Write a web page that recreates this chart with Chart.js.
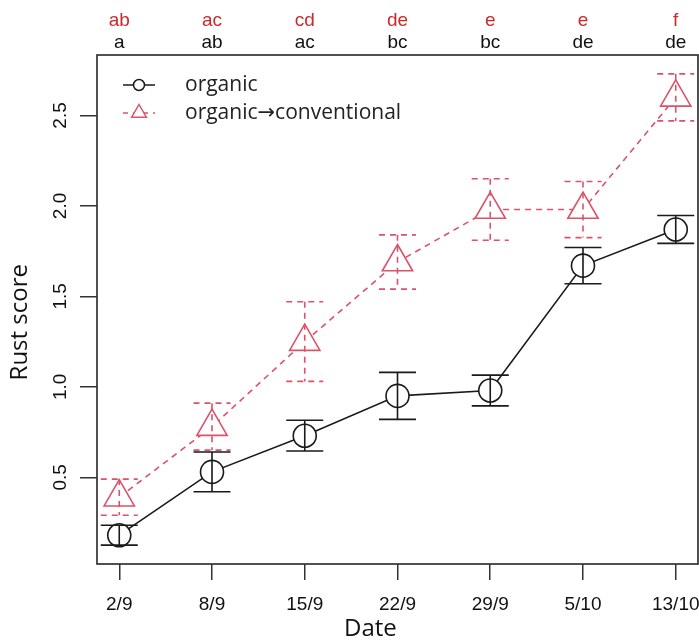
<!DOCTYPE html>
<html>
<head>
<meta charset="utf-8">
<script src="https://cdn.jsdelivr.net/npm/chart.js@4.4.1/dist/chart.umd.min.js"></script>
<style>
  html, body { margin: 0; padding: 0; background: #fff; }
  #wrap { width: 699px; height: 641px; }
</style>
</head>
<body>
<div id="wrap"><canvas id="c" width="699" height="641"></canvas></div>
<script>
// Sampling dates (equally spaced categories)
const dates = ['2/9', '8/9', '15/9', '22/9', '29/9', '5/10', '13/10'];

// Mean rust score and standard error per date
const organicMean = [0.18, 0.53, 0.73, 0.95, 0.98, 1.67, 1.87];
const organicErr  = [0.055, 0.11, 0.085, 0.13, 0.085, 0.10, 0.077];
const convMean    = [0.39, 0.78, 1.25, 1.69, 1.98, 1.98, 2.60];
const convErr     = [0.10, 0.13, 0.22, 0.15, 0.17, 0.155, 0.13];

// Significance letters shown above each date
const convLetters    = ['ab', 'ac', 'cd', 'de', 'e', 'e', 'f'];
const organicLetters = ['a', 'ab', 'ac', 'bc', 'bc', 'de', 'de'];

const yTicks = [0.5, 1.0, 1.5, 2.0, 2.5];

const seriesNames = ['organic', 'organic\u2192conventional'];
const xTitle = 'Date';
const yTitle = 'Rust score';

const BLACK = '#1a1a1a';
const RED = '#d9536b';
const RED_TEXT = '#c92a2a';
const TICK_FONT = { family: '"Liberation Sans", Arial, sans-serif', size: 19 };
const LABEL_FAMILY = '"Open Sans", "DejaVu Sans", sans-serif';

// Axis limits padded by 4% of the data extent on each side
const lows = organicMean.map((m, i) => m - organicErr[i]).concat(convMean.map((m, i) => m - convErr[i]));
const highs = organicMean.map((m, i) => m + organicErr[i]).concat(convMean.map((m, i) => m + convErr[i]));
const yLo = Math.min(...lows), yHi = Math.max(...highs);
const yPad = (yHi - yLo) * 0.04;
const xPad = (dates.length - 1) * 0.04;

const toPoints = arr => arr.map((v, i) => ({ x: i + 1, y: v }));

// Error bars with caps, drawn over the markers
const errorBars = {
  id: 'errorBars',
  afterDatasetsDraw(chart) {
    const { ctx, scales: { x, y } } = chart;
    const sets = [
      { mean: organicMean, err: organicErr, color: BLACK, dash: [] },
      { mean: convMean, err: convErr, color: RED, dash: [6, 5] }
    ];
    const half = 18.5;
    ctx.save();
    ctx.lineWidth = 1.6;
    sets.forEach(s => {
      ctx.strokeStyle = s.color;
      ctx.setLineDash(s.dash);
      s.mean.forEach((m, i) => {
        const px = x.getPixelForValue(i + 1);
        const top = y.getPixelForValue(m + s.err[i]);
        const bot = y.getPixelForValue(m - s.err[i]);
        ctx.beginPath();
        ctx.moveTo(px, top); ctx.lineTo(px, bot);
        ctx.moveTo(px - half, top); ctx.lineTo(px + half, top);
        ctx.moveTo(px - half, bot); ctx.lineTo(px + half, bot);
        ctx.stroke();
      });
    });
    ctx.restore();
  }
};

// Frame, axis titles, legend and letter rows
const decorations = {
  id: 'decorations',
  afterDraw(chart) {
    const { ctx, chartArea: a, scales: { x } } = chart;
    ctx.save();
    ctx.strokeStyle = '#333';
    ctx.lineWidth = 1.7;
    ctx.setLineDash([]);
    ctx.strokeRect(a.left, a.top, a.right - a.left, a.bottom - a.top);

    // axis titles
    ctx.fillStyle = '#111';
    ctx.font = `24px ${LABEL_FAMILY}`;
    ctx.textAlign = 'center';
    ctx.textBaseline = 'middle';
    ctx.fillText(xTitle, a.left + (a.right - a.left) * 0.455, 629);
    ctx.save();
    ctx.translate(20, a.top + (a.bottom - a.top) * 0.525);
    ctx.rotate(-Math.PI / 2);
    ctx.fillText(yTitle, 0, 0);
    ctx.restore();

    // letters above the plot
    ctx.font = `${TICK_FONT.size}px ${TICK_FONT.family}`;
    dates.forEach((d, i) => {
      const px = x.getPixelForValue(i + 1);
      ctx.fillStyle = RED_TEXT;
      ctx.fillText(convLetters[i], px, 21);
      ctx.fillStyle = '#111';
      ctx.fillText(organicLetters[i], px, 43);
    });

    // legend
    const lx0 = a.left + 26, lx1 = a.left + 58, lmid = (lx0 + lx1) / 2;
    const rows = [a.top + 30, a.top + 58];
    ctx.lineWidth = 1.5;
    ctx.strokeStyle = BLACK;
    ctx.beginPath(); ctx.moveTo(lx0, rows[0]); ctx.lineTo(lx1, rows[0]); ctx.stroke();
    ctx.fillStyle = '#fff';
    ctx.beginPath(); ctx.arc(lmid, rows[0], 5.5, 0, Math.PI * 2); ctx.fill(); ctx.stroke();

    ctx.strokeStyle = RED;
    ctx.setLineDash([5, 5]);
    ctx.beginPath(); ctx.moveTo(lx0, rows[1]); ctx.lineTo(lx1, rows[1]); ctx.stroke();
    ctx.setLineDash([]);
    const r = 8.5;
    ctx.beginPath();
    ctx.moveTo(lmid, rows[1] - r);
    ctx.lineTo(lmid + r * 0.866, rows[1] + r / 2);
    ctx.lineTo(lmid - r * 0.866, rows[1] + r / 2);
    ctx.closePath();
    ctx.fill(); ctx.stroke();

    ctx.fillStyle = '#222';
    ctx.font = `21px ${LABEL_FAMILY}`;
    ctx.textAlign = 'left';
    seriesNames.forEach((n, i) => ctx.fillText(n, a.left + 88, rows[i]));
    ctx.restore();
  }
};

new Chart(document.getElementById('c'), {
  type: 'line',
  data: {
    datasets: [
      {
        label: seriesNames[0],
        data: toPoints(organicMean),
        borderColor: BLACK,
        borderWidth: 1.6,
        pointStyle: 'circle',
        pointRadius: 11.5,
        pointBackgroundColor: '#fff',
        pointBorderColor: BLACK,
        pointBorderWidth: 1.6,
        tension: 0
      },
      {
        label: seriesNames[1],
        data: toPoints(convMean),
        borderColor: RED,
        borderWidth: 1.6,
        borderDash: [6, 5],
        pointStyle: 'triangle',
        pointRadius: 17.5,
        pointBackgroundColor: '#fff',
        pointBorderColor: RED,
        pointBorderWidth: 1.6,
        tension: 0
      }
    ]
  },
  options: {
    responsive: false,
    devicePixelRatio: 1,
    animation: false,
    layout: { autoPadding: false, padding: { top: 55, right: 1, left: 0, bottom: 0 } },
    plugins: { legend: { display: false }, tooltip: { enabled: false } },
    scales: {
      x: {
        type: 'linear',
        min: 1 - xPad,
        max: dates.length + xPad,
        afterBuildTicks: s => { s.ticks = dates.map((d, i) => ({ value: i + 1 })); },
        afterFit: s => { s.height = 77; s.paddingLeft = 0; s.paddingRight = 0; },
        ticks: {
          callback: v => dates[Math.round(v) - 1],
          font: TICK_FONT,
          color: '#111',
          padding: 13,
          maxRotation: 0,
          autoSkip: false
        },
        grid: { drawOnChartArea: false, drawTicks: true, tickLength: 16, color: '#333', lineWidth: 1.5 },
        border: { display: false }
      },
      y: {
        type: 'linear',
        min: yLo - yPad,
        max: yHi + yPad,
        afterBuildTicks: s => { s.ticks = yTicks.map(v => ({ value: v })); },
        afterFit: s => { s.width = 97; s.paddingTop = 0; s.paddingBottom = 0; },
        ticks: {
          callback: v => Number(v).toFixed(1),
          font: TICK_FONT,
          color: '#111',
          padding: 6,
          minRotation: 90,
          maxRotation: 90,
          crossAlign: 'center'
        },
        grid: { drawOnChartArea: false, drawTicks: true, tickLength: 17, color: '#333', lineWidth: 1.5 },
        border: { display: false }
      }
    }
  },
  plugins: [errorBars, decorations]
});
</script>
</body>
</html>
